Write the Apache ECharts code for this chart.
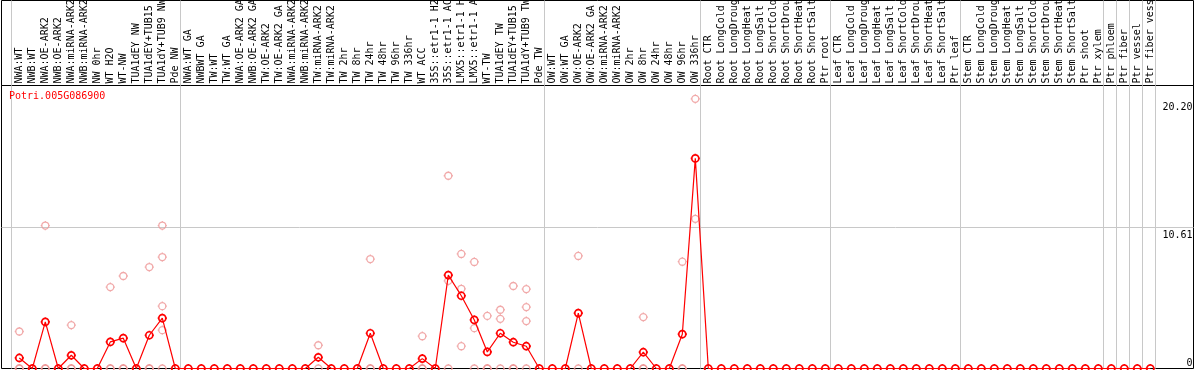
<!DOCTYPE html>
<html>
<head>
<meta charset="utf-8">
<script src="https://cdn.jsdelivr.net/npm/echarts@6/dist/echarts.min.js"></script>
<style>
html,body{margin:0;padding:0;background:#fff;}
#chart{width:1194px;height:370px;}
</style>
</head>
<body>
<div id="chart"></div>
<script>
// ---------- data ----------
const geneName = 'Potri.005G086900';

const categories = [
  'NWA:WT','NWB:WT','NWA:OE-ARK2','NWB:OE-ARK2','NWA:miRNA-ARK2','NWB:miRNA-ARK2','NW 0hr','WT H2O','WT-NW','TUA1dEY NW','TUA1dEY+TUB15','TUA1dY+TUB9 NW','Pde NW',
  'NWA:WT GA','NWBWT GA','TW:WT','TW:WT GA','NWA:OE-ARK2 GA','NWB:OE-ARK2 GA','TW:OE-ARK2','TW:OE-ARK2 GA','NWA:miRNA-ARK2','NWB:miRNA-ARK2','TW:miRNA-ARK2','TW:miRNA-ARK2','TW 2hr','TW 8hr','TW 24hr','TW 48hr','TW 96hr','TW 336hr','WT ACC','35S::etr1-1 H2O','35S::etr1-1 ACC','LMX5::etr1-1 H2O','LMX5::etr1-1 ACC','WT-TW','TUA1dEY TW','TUA1dEY+TUB15','TUA1dY+TUB9 TW','Pde TW',
  'OW:WT','OW:WT GA','OW:OE-ARK2','OW:OE-ARK2 GA','OW:miRNA-ARK2','OW:miRNA-ARK2','OW 2hr','OW 8hr','OW 24hr','OW 48hr','OW 96hr','OW 336hr',
  'Root CTR','Root LongCold','Root LongDrought','Root LongHeat','Root LongSalt','Root ShortCold','Root ShortDrought','Root ShortHeat','Root ShortSalt','Ptr root',
  'Leaf CTR','Leaf LongCold','Leaf LongDrought','Leaf LongHeat','Leaf LongSalt','Leaf ShortCold','Leaf ShortDrought','Leaf ShortHeat','Leaf ShortSalt','Ptr leaf',
  'Stem CTR','Stem LongCold','Stem LongDrought','Stem LongHeat','Stem LongSalt','Stem ShortCold','Stem ShortDrought','Stem ShortHeat','Stem ShortSalt','Ptr shoot','Ptr xylem',
  'Ptr phloem','Ptr fiber','Ptr vessel','Ptr fiber vessel'
];

// sizes of the groups separated by the grey vertical lines
const groupSizes = [13, 28, 12, 10, 10, 11, 1, 1, 1, 1];

// mean expression per sample (red line)
const meanValues = [
  0.79, 0, 3.49, 0, 0.99, 0, 0, 1.99, 2.27, 0, 2.49, 3.77, 0,
  0, 0, 0, 0, 0, 0, 0, 0, 0, 0, 0.84, 0, 0, 0, 2.64, 0, 0, 0, 0.74, 0, 7.00, 5.45, 3.64, 1.24, 2.64, 1.97, 1.67, 0,
  0, 0, 4.15, 0, 0, 0, 0, 1.22, 0, 0, 2.57, 15.74,
  0, 0, 0, 0, 0, 0, 0, 0, 0, 0,
  0, 0, 0, 0, 0, 0, 0, 0, 0, 0,
  0, 0, 0, 0, 0, 0, 0, 0, 0, 0, 0,
  0, 0, 0, 0
];

// individual replicate values per sample (pink circles)
const replicateValues = [
  [2.77,0,0],[0],[10.71,0,0],[0],[3.25,0,0],[0],[0],[6.10,0,0],[6.93,0,0],[0],[7.60,0,0],[10.71,8.35,4.67,2.87,0],[0],
  [0],[0],[0],[0],[0],[0],[0],[0],[0],[0],[1.74,0],[0],[0],[0],[8.20,0,0],[0],[0],[0],[2.42,0,0],[0],[14.44,6.57,0],[8.58,5.97,1.67],[7.98,3.02,0],[3.94,0,0],[4.40,3.72,0],[6.18,0,0],[5.95,4.60,3.55,0],[0],
  [0],[0],[8.43,0],[0],[0],[0],[0],[3.85,0,0],[0],[0],[8.00,0,0],[20.20,11.21],
  [0],[0],[0],[0],[0],[0],[0],[0],[0],[0],
  [0],[0],[0],[0],[0],[0],[0],[0],[0],[0],
  [0],[0],[0],[0],[0],[0],[0],[0],[0],[0],[0],
  [0],[0],[0],[0]
];

const yTickValues = [0, 10.61, 20.20];
const yTickLabels = ['0', '10.61', '20.20'];

// ---------- layout ----------
const FONT = 'DejaVu Sans Mono';
const GRID_LEFT = 1.5, GRID_RIGHT = 0.5, CHART_W = 1194;
const GRID_W = CHART_W - GRID_LEFT - GRID_RIGHT;
const STEP = 13.0;          // px per sample
const FIRST_X = 19.3;       // px of the first sample
const xMin = -(FIRST_X - GRID_LEFT) / STEP;
const xMax = xMin + GRID_W / STEP;
const yMax = 21.2;
const SEP_OFFSET = 0.615;

const separators = [];
let acc = 0;
separators.push(acc - SEP_OFFSET);
groupSizes.forEach(s => { acc += s; separators.push(acc - SEP_OFFSET); });

const indices = categories.map((c, i) => i);
const meanData = meanValues.map((v, i) => [i, v]);
const repData = [];
replicateValues.forEach((arr, i) => arr.forEach(v => repData.push([i, v])));

const markerPath = 'path://M0 -3.5C1.933 -3.5 3.5 -1.933 3.5 0C3.5 1.933 1.933 3.5 0 3.5C-1.933 3.5 -3.5 1.933 -3.5 0C-3.5 -1.933 -1.933 -3.5 0 -3.5ZM0 -4.6L0 -3.5M0 3.5L0 4.6M-4.6 0L-3.5 0M3.5 0L4.6 0';

const chart = echarts.init(document.getElementById('chart'), null, {renderer: 'canvas'});
chart.setOption({
  animation: false,
  backgroundColor: '#fff',
  title: {
    text: geneName, left: 9, top: 91, padding: 0,
    textStyle: {color: '#ff0000', fontFamily: FONT, fontSize: 10, fontWeight: 'normal'}
  },
  grid: [
    {left: GRID_LEFT, right: GRID_RIGHT, top: 85.5, bottom: 1.5, show: true, borderColor: '#000', borderWidth: 1, backgroundColor: 'transparent', containLabel: false, outerBoundsMode: 'none'},
    {left: GRID_LEFT, right: GRID_RIGHT, top: 0.5, height: 85, show: true, borderColor: '#000', borderWidth: 1, backgroundColor: 'transparent', containLabel: false, outerBoundsMode: 'none'}
  ],
  xAxis: [
    {
      type: 'value', gridIndex: 0, position: 'top', min: xMin, max: xMax,
      axisLine: {show: false},
      axisTick: {show: false, customValues: separators},
      splitLine: {show: true, lineStyle: {color: '#c8c8c8', width: 1}},
      axisLabel: {
        customValues: indices, rotate: 90, margin: 2,
        fontFamily: FONT, fontSize: 10, color: '#000',
        formatter: v => categories[Math.round(v)]
      }
    },
    {
      type: 'value', gridIndex: 1, min: xMin, max: xMax,
      axisLine: {show: false},
      axisTick: {show: false, customValues: separators},
      splitLine: {show: true, lineStyle: {color: '#c8c8c8', width: 1}},
      axisLabel: {show: false}
    }
  ],
  yAxis: [
    {
      type: 'value', gridIndex: 0, position: 'right', min: 0, max: yMax,
      axisLine: {show: false},
      axisTick: {show: false, customValues: [yTickValues[1]]},
      splitLine: {show: true, lineStyle: {color: '#c8c8c8', width: 1}},
      axisLabel: {
        inside: true, margin: 1, verticalAlign: 'top', padding: [4, 0, 0, 0],
        customValues: [yTickValues[1], yTickValues[2]],
        fontFamily: FONT, fontSize: 10, color: '#000',
        formatter: v => yTickLabels[yTickValues.indexOf(v)]
      }
    },
    {
      type: 'value', gridIndex: 0, position: 'right', min: 0, max: yMax,
      axisLine: {show: false},
      axisTick: {show: false},
      splitLine: {show: false},
      axisLabel: {
        inside: true, margin: 1, verticalAlign: 'bottom',
        customValues: [yTickValues[0]],
        fontFamily: FONT, fontSize: 10, color: '#000',
        formatter: v => yTickLabels[yTickValues.indexOf(v)]
      }
    },
    {type: 'value', gridIndex: 1, min: 0, max: 1, show: false}
  ],
  series: [
    {
      type: 'scatter', xAxisIndex: 0, yAxisIndex: 0, data: repData,
      symbol: markerPath, symbolSize: 9.2, symbolKeepAspect: true, silent: true, z: 2,
      itemStyle: {color: 'rgba(0,0,0,0)', borderColor: '#ee9494', borderWidth: 1.3}
    },
    {
      type: 'line', xAxisIndex: 0, yAxisIndex: 0, data: meanData,
      symbol: markerPath, symbolSize: 9.2, symbolKeepAspect: true, showAllSymbol: true, silent: true, z: 3,
      clip: false,
      lineStyle: {color: '#ff0000', width: 1.2},
      itemStyle: {color: 'rgba(0,0,0,0)', borderColor: '#ff0000', borderWidth: 1.7}
    }
  ]
});
</script>
</body>
</html>
